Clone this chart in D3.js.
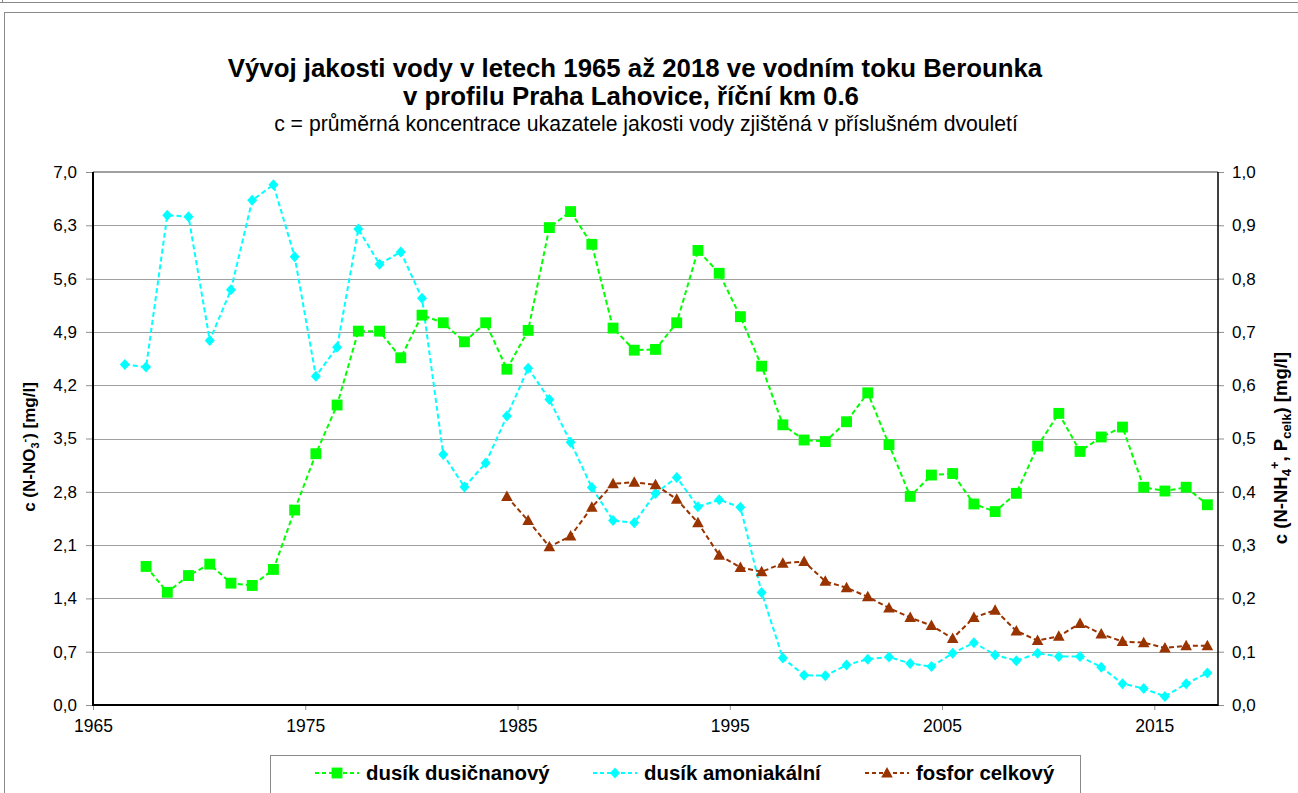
<!DOCTYPE html>
<html>
<head>
<meta charset="utf-8">
<script src="https://cdn.jsdelivr.net/npm/d3@7"></script>
<style>
  body { margin: 0; background: #fff; }
  svg { display: block; }
  text { font-family: Arial, "Liberation Sans", sans-serif; fill: #000; }
</style>
</head>
<body>
<svg id="chart" width="1298" height="793"></svg>
<script>
// Two-year period averages, Berounka river, profile Praha Lahovice (river km 0.6)
const nitrateYears = d3.range(1967, 2018);
const nitrate = [
  1.82, 1.48, 1.70, 1.85, 1.60, 1.57, 1.78, 2.56, 3.30, 3.94,
  4.91, 4.91, 4.56, 5.12, 5.02, 4.77, 5.02, 4.41, 4.92, 6.27,
  6.48, 6.05, 4.95, 4.66, 4.67, 5.02, 5.97, 5.67, 5.10, 4.45,
  3.68, 3.48, 3.46, 3.72, 4.10, 3.42, 2.74, 3.02, 3.04, 2.64,
  2.54, 2.78, 3.40, 3.83, 3.33, 3.52, 3.65, 2.86, 2.81, 2.86,
  2.63
];
const ammoniumYears = d3.range(1966, 2018);
const ammonium = [
  0.639, 0.634, 0.919, 0.916, 0.684, 0.779, 0.947, 0.976, 0.841, 0.617,
  0.671, 0.893, 0.827, 0.850, 0.763, 0.470, 0.409, 0.454, 0.542, 0.632,
  0.573, 0.493, 0.408, 0.346, 0.342, 0.397, 0.427, 0.372, 0.385, 0.371,
  0.211, 0.088, 0.056, 0.055, 0.075, 0.086, 0.090, 0.078, 0.072, 0.097,
  0.117, 0.094, 0.083, 0.097, 0.091, 0.091, 0.071, 0.040, 0.031, 0.016,
  0.040, 0.060
];
const phosphorusYears = d3.range(1984, 2018);
const phosphorus = [
  0.391, 0.346, 0.297, 0.317, 0.371, 0.415, 0.418, 0.413, 0.386, 0.342,
  0.281, 0.258, 0.250, 0.266, 0.269, 0.232, 0.220, 0.203, 0.182, 0.164,
  0.149, 0.125, 0.164, 0.178, 0.139, 0.121, 0.129, 0.153, 0.133, 0.119,
  0.117, 0.107, 0.111, 0.111
];

const xTickYears = [1965, 1975, 1985, 1995, 2005, 2015];
const leftTicks = [0, 0.7, 1.4, 2.1, 2.8, 3.5, 4.2, 4.9, 5.6, 6.3, 7.0];
const rightTicks = [0, 0.1, 0.2, 0.3, 0.4, 0.5, 0.6, 0.7, 0.8, 0.9, 1.0];

const titleLines = [
  "Vývoj jakosti vody v letech 1965 až 2018 ve vodním toku Berounka",
  "v profilu Praha Lahovice, říční km 0.6"
];
const subtitle = "c = průměrná koncentrace ukazatele jakosti vody zjištěná v příslušném dvouletí";
const seriesNames = ["dusík dusičnanový", "dusík amoniakální", "fosfor celkový"];

const colors = { nitrate: "#00ff00", ammonium: "#00ffff", phosphorus: "#993300" };
const FONT = "Arial, 'Liberation Sans', sans-serif";

const svg = d3.select("#chart");
const plot = { left: 93, right: 1218, top: 172, bottom: 705 };

// outer frames
svg.append("line").attr("x1", 0).attr("x2", 1298).attr("y1", 2.5).attr("y2", 2.5)
  .attr("stroke", "#8a8a8a").attr("stroke-width", 1);
svg.append("line").attr("x1", 2.5).attr("x2", 2.5).attr("y1", 0).attr("y2", 2.5)
  .attr("stroke", "#8a8a8a");
svg.append("rect").attr("x", 4.5).attr("y", 12.5).attr("width", 1310).attr("height", 800)
  .attr("fill", "#fff").attr("stroke", "#8a8a8a").attr("stroke-width", 1);

const x = d3.scaleLinear().domain([1965, 2018]).range([plot.left, plot.right]);
const yL = d3.scaleLinear().domain([0, 7]).range([plot.bottom, plot.top]);
const yR = d3.scaleLinear().domain([0, 1]).range([plot.bottom, plot.top]);
const px = yr => x(yr + 0.5);

// gridlines
svg.append("g").selectAll("line").data(leftTicks.filter(d => d > 0 && d < 7)).join("line")
  .attr("x1", plot.left).attr("x2", plot.right)
  .attr("y1", d => Math.round(yL(d)) + 0.5).attr("y2", d => Math.round(yL(d)) + 0.5)
  .attr("stroke", "#a0a0a0").attr("stroke-width", 1);
svg.append("line").attr("x1", plot.left).attr("x2", plot.right)
  .attr("y1", plot.top).attr("y2", plot.top)
  .attr("stroke", "#808080").attr("stroke-width", 1.5);

const fmt = d => d.toFixed(1).replace(".", ",");

// left axis
const gL = svg.append("g").attr("transform", `translate(${plot.left},0)`)
  .call(d3.axisLeft(yL).tickValues(leftTicks).tickFormat(fmt).tickSize(7).tickPadding(9));
gL.select(".domain").remove();
gL.selectAll(".tick line").attr("stroke", "#909090");
gL.selectAll(".tick text").attr("font-size", 17).attr("font-family", FONT);

// right axis
const gR = svg.append("g").attr("transform", `translate(${plot.right},0)`)
  .call(d3.axisRight(yR).tickValues(rightTicks).tickFormat(fmt).tickSize(6).tickPadding(8));
gR.select(".domain").remove();
gR.selectAll(".tick line").attr("stroke", "#909090");
gR.selectAll(".tick text").attr("font-size", 17).attr("font-family", FONT);

// bottom axis
const gB = svg.append("g").attr("transform", `translate(0,${plot.bottom})`)
  .call(d3.axisBottom(x).tickValues(xTickYears).tickFormat(d3.format("d")).tickSize(5).tickPadding(10));
gB.select(".domain").remove();
gB.selectAll(".tick line").attr("stroke", "#909090");
gB.selectAll(".tick text").attr("font-size", 17.5).attr("font-family", FONT);

// axis lines
svg.append("line").attr("x1", plot.left).attr("x2", plot.left).attr("y1", plot.top).attr("y2", plot.bottom + 1)
  .attr("stroke", "#000").attr("stroke-width", 2);
svg.append("line").attr("x1", plot.right).attr("x2", plot.right).attr("y1", plot.top).attr("y2", plot.bottom + 1)
  .attr("stroke", "#000").attr("stroke-width", 1.5);
svg.append("line").attr("x1", plot.left).attr("x2", plot.right).attr("y1", plot.bottom).attr("y2", plot.bottom)
  .attr("stroke", "#000").attr("stroke-width", 2);

// marker shapes
const sqr = d3.symbol().type(d3.symbolSquare).size(118)();
const diamond = "M0,-5.5L5,0L0,5.5L-5,0Z";
const tri = "M0,-6L5.8,4.5L-5.8,4.5Z";

function drawSeries(years, values, scale, color, markerPath, dash) {
  const pts = years.map((yr, i) => [px(yr), scale(values[i])]);
  svg.append("path").attr("d", d3.line()(pts))
    .attr("fill", "none").attr("stroke", color).attr("stroke-width", 2)
    .attr("stroke-dasharray", dash);
  svg.append("g").selectAll("path").data(pts).join("path")
    .attr("transform", d => `translate(${d[0]},${d[1]})`)
    .attr("d", markerPath).attr("fill", color);
}

drawSeries(ammoniumYears, ammonium, yR, colors.ammonium, diamond, "5,3");
drawSeries(phosphorusYears, phosphorus, yR, colors.phosphorus, tri, "5,3");
drawSeries(nitrateYears, nitrate, yL, colors.nitrate, sqr, "5,3");

// titles
const tg = svg.append("g").attr("text-anchor", "middle");
tg.append("text").attr("x", 635).attr("y", 77).attr("font-size", 25.8).attr("font-weight", "bold").text(titleLines[0]);
tg.append("text").attr("x", 631).attr("y", 105).attr("font-size", 25.8).attr("font-weight", "bold").text(titleLines[1]);
tg.append("text").attr("x", 646).attr("y", 131).attr("font-size", 21.2).text(subtitle);

// left axis title
const lt = svg.append("text").attr("transform", "translate(35,447) rotate(-90)")
  .attr("text-anchor", "middle").attr("font-size", 17).attr("font-weight", "bold");
lt.append("tspan").text("c (N-NO");
lt.append("tspan").attr("font-size", 11).attr("dy", 4).text("3");
lt.append("tspan").attr("font-size", 11).attr("dy", -11).text("-");
lt.append("tspan").attr("dy", 7).text(") [mg/l]");

// right axis title
const rt = svg.append("text").attr("transform", "translate(1287,448) rotate(-90)")
  .attr("text-anchor", "middle").attr("font-size", 18.5).attr("font-weight", "bold");
rt.append("tspan").text("c (N-NH");
rt.append("tspan").attr("font-size", 13).attr("dy", 4).text("4");
rt.append("tspan").attr("font-size", 13).attr("dy", -12).text("+");
rt.append("tspan").attr("dy", 8).text(", P");
rt.append("tspan").attr("font-size", 13).attr("dy", 4).text("celk");
rt.append("tspan").attr("dy", -4).text(") [mg/l]");

// legend
const legend = svg.append("g");
legend.append("rect").attr("x", 270.5).attr("y", 755.5).attr("width", 810).attr("height", 38)
  .attr("fill", "#fff").attr("stroke", "#8a8a8a");
const legendItems = [
  { name: seriesNames[0], color: colors.nitrate, marker: sqr, cx: 337 },
  { name: seriesNames[1], color: colors.ammonium, marker: diamond, cx: 615 },
  { name: seriesNames[2], color: colors.phosphorus, marker: tri, cx: 887 }
];
legendItems.forEach(it => {
  legend.append("line").attr("x1", it.cx - 22).attr("x2", it.cx + 22).attr("y1", 773).attr("y2", 773)
    .attr("stroke", it.color).attr("stroke-width", 2).attr("stroke-dasharray", "4,3");
  legend.append("path").attr("transform", `translate(${it.cx},773)`).attr("d", it.marker).attr("fill", it.color);
  legend.append("text").attr("x", it.cx + 29).attr("y", 780).attr("font-size", 20.4).attr("font-weight", "bold").text(it.name);
});
</script>
</body>
</html>
